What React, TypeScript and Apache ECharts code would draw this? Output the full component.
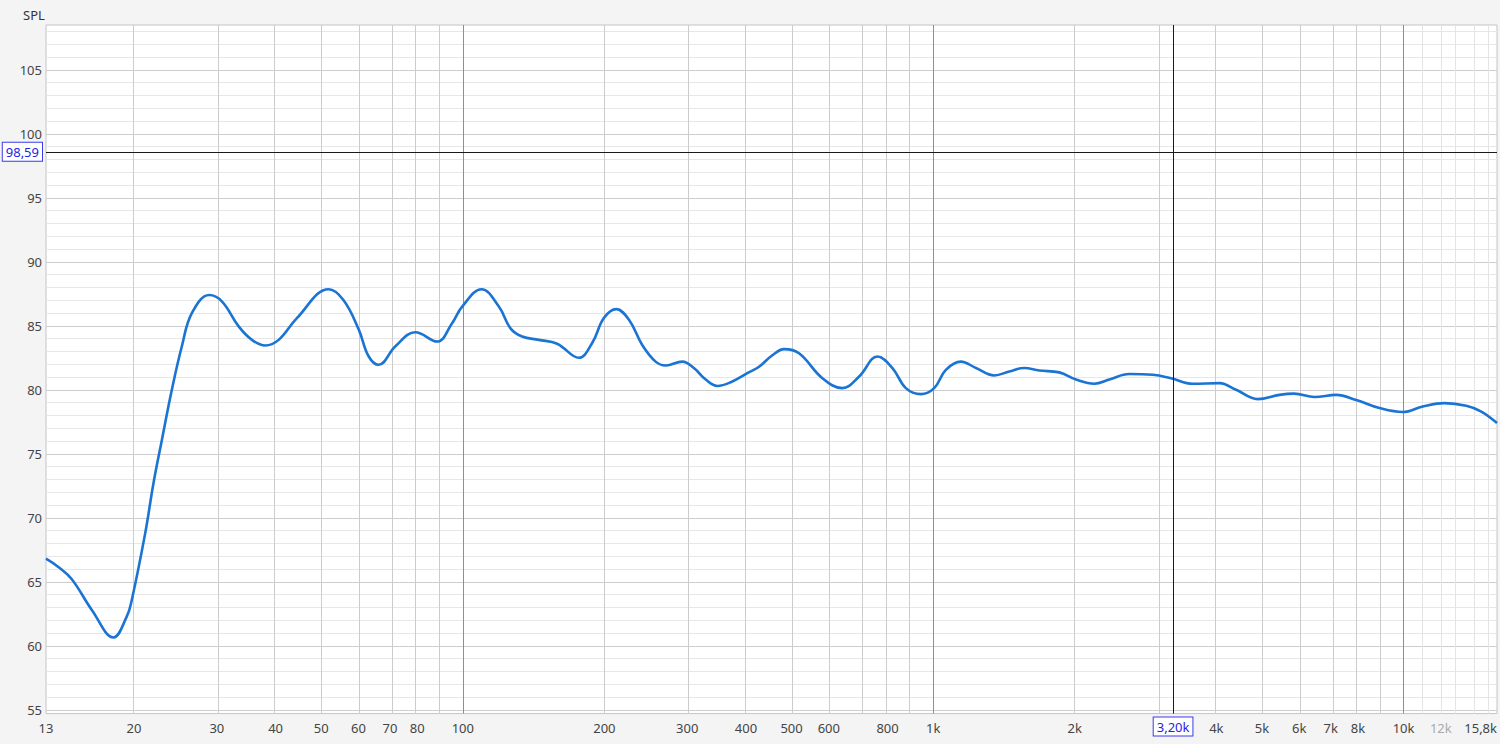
import React, { useEffect, useRef } from "react";
import * as echarts from "echarts";

// Frequency response (Hz -> dB SPL)
const freqHz = [
  13, 13.81, 14.75, 16.27, 18.09, 19.31, 19.79, 21.13, 22.0, 22.93, 24.07, 25.28, 26.56,
  28.91, 30.75, 33.38, 35.62, 38.03, 40.6, 44.4, 51.87, 55.8, 60.1,
  63.1, 66.28, 71.9, 79.3, 88.2, 94.9, 99.7, 109.6, 119.3, 126.3, 133.7, 145.1,
  158.7, 176.5, 188.4, 199.5, 212, 225.6, 240.7, 257, 270, 292.8, 310,
  328.4, 347.6, 374.1, 402.6, 426.4, 455.1, 481.9, 518.6, 581.5, 641.2, 696,
  761.4, 819.2, 874.7, 941.5, 1005, 1064, 1145, 1233, 1349, 1451, 1562, 1681,
  1854, 2012, 2201, 2369, 2612, 2928, 3204, 3563, 4060, 4406, 4898, 5448,
  5850, 6465, 7193, 7933, 8889, 9965, 10990, 12226, 13594, 14631, 15800,
];
const splDb = [
  66.8, 66.15, 65.2, 62.8, 60.65, 62.3, 63.6, 68.8, 72.7, 76.1, 80.0, 83.4, 86.0,
  87.4, 86.9, 84.95, 83.9, 83.46, 83.9, 85.6, 87.86, 87.0, 84.7,
  82.6, 81.95, 83.4, 84.5, 83.77, 85.2, 86.5, 87.86, 86.5, 84.8, 84.16, 83.9,
  83.6, 82.5, 83.65, 85.6, 86.3, 85.47, 83.5, 82.2, 81.9, 82.2, 81.7,
  80.8, 80.3, 80.65, 81.3, 81.8, 82.7, 83.18, 82.85, 80.9, 80.13, 81.04,
  82.6, 81.7, 80.13, 79.66, 80.13, 81.56, 82.2, 81.7, 81.12, 81.43, 81.7, 81.5,
  81.36, 80.8, 80.47, 80.8, 81.23, 81.17, 80.9, 80.47, 80.52, 80.0, 79.27, 79.6,
  79.7, 79.43, 79.6, 79.2, 78.57, 78.26, 78.7, 78.96, 78.75, 78.3, 77.4,
];

const yLabelValues = [55, 60, 65, 70, 75, 80, 85, 90, 95, 100, 105];
const xLabelFreqs = [
  13, 20, 30, 40, 50, 60, 70, 80, 100, 200, 300, 400, 500, 600, 800, 1000, 2000,
  4000, 5000, 6000, 7000, 8000, 10000, 12000, 15800,
];
const fadedLabelFreqs = [12000];
const gridFreqs = [
  20, 30, 40, 50, 60, 70, 80, 90, 200, 300, 400, 500, 600, 700, 800, 900, 2000,
  3000, 4000, 5000, 6000, 7000, 8000, 9000,
];
const decadeFreqs = [100, 1000, 10000];
const fadedGridFreqs = [11000, 12000, 13000, 14000, 15000];
const yMajorGrid = [55, 60, 65, 70, 75, 80, 85, 90, 95, 100, 105];
const cursorFreq = 3200;
const cursorLevel = 98.59;

const freqMin = 13;
const freqMax = 15800;
const splMin = 54.7;
const splMax = 108.5;

const FONT = "'Noto Sans', 'Open Sans', sans-serif";

function fmtFreq(f: number): string {
  if (f >= 1000) {
    const k = Math.round(f / 10) / 100;
    return String(k).replace(".", ",") + "k";
  }
  return String(Math.round(f));
}

function gridSeries(name: string, data: any[], color: string) {
  return {
    name,
    type: "line",
    data: [],
    silent: true,
    z: 1,
    markLine: {
      silent: true,
      animation: false,
      z: 1,
      symbol: ["none", "none"],
      label: { show: false },
      emphasis: { disabled: true },
      lineStyle: { color, width: 1, type: "solid" },
      data,
    },
  };
}

export default function App() {
  const ref = useRef<HTMLDivElement>(null);

  useEffect(() => {
    if (!ref.current) return;
    const chart = echarts.init(ref.current, undefined, { renderer: "svg" });

    const yMinorGrid: number[] = [];
    for (let v = 55; v <= 108; v++) if (yMajorGrid.indexOf(v) < 0) yMinorGrid.push(v);

    const cursorLabel = {
      show: true,
      position: "start",
      distance: 4,
      color: "#2323e6",
      fontSize: 13,
      fontFamily: FONT,
      backgroundColor: "#ffffff",
      borderColor: "#3a3af0",
      borderWidth: 1,
      padding: [3, 3, 2, 3],
    };

    chart.setOption({
      animation: false,
      backgroundColor: "#f4f4f4",
      title: {
        text: "SPL",
        left: 18,
        top: 3,
        textStyle: { fontSize: 13, fontWeight: "normal", color: "#333", fontFamily: FONT },
      },
      grid: {
        left: 46,
        right: 3,
        top: 25,
        bottom: 30.4,
        outerBoundsMode: "none",
        containLabel: false,
        show: true,
        backgroundColor: "#ffffff",
        borderColor: "#c4c4c4",
        borderWidth: 1,
      },
      xAxis: {
        type: "value",
        min: Math.log10(freqMin),
        max: Math.log10(freqMax),
        axisLine: { show: false },
        axisTick: { show: false },
        splitLine: { show: false },
        axisLabel: {
          customValues: xLabelFreqs.map((f) => Math.log10(f)),
          hideOverlap: false,
          showMinLabel: true,
          showMaxLabel: true,
          alignMaxLabel: "right",
          margin: 8,
          fontSize: 13,
          fontFamily: FONT,
          color: (v: any) => {
            const f = Math.pow(10, Number(v));
            return fadedLabelFreqs.some((g) => Math.abs(g - f) < 1) ? "#aaaaaa" : "#444444";
          },
          formatter: (v: number) => fmtFreq(Math.pow(10, v)),
        },
      },
      yAxis: {
        type: "value",
        min: splMin,
        max: splMax,
        axisLine: { show: false },
        axisTick: { show: false },
        splitLine: { show: false },
        axisLabel: {
          customValues: yLabelValues,
          margin: 4,
          fontSize: 13,
          fontFamily: FONT,
          color: "#444444",
        },
      },
      series: [
        gridSeries("hminor", yMinorGrid.map((v) => ({ yAxis: v })), "#e7e7e7"),
        gridSeries("hmajor", yMajorGrid.map((v) => ({ yAxis: v })), "#cdcdcd"),
        gridSeries("vfaded", fadedGridFreqs.map((f) => ({ xAxis: Math.log10(f) })), "#e4e4e4"),
        gridSeries("vgrid", gridFreqs.map((f) => ({ xAxis: Math.log10(f) })), "#cccccc"),
        gridSeries("vdecade", decadeFreqs.map((f) => ({ xAxis: Math.log10(f) })), "#8f8f8f"),
        {
          name: "SPL",
          type: "line",
          z: 4,
          smooth: 0.4,
          showSymbol: false,
          silent: true,
          lineStyle: { color: "#1a74d4", width: 2.6 },
          data: freqHz.map((f, i) => [Math.log10(f), splDb[i]]),
        },
        {
          name: "cursor",
          type: "line",
          data: [],
          z: 5,
          silent: true,
          markLine: {
            silent: true,
            animation: false,
            z: 5,
            symbol: ["none", "none"],
            lineStyle: { color: "#1a1a1a", width: 1, type: "solid" },
            emphasis: { disabled: true },
            data: [
              {
                xAxis: Math.log10(cursorFreq),
                label: { ...cursorLabel, formatter: (cursorFreq / 1000).toFixed(2).replace(".", ",") + "k" },
              },
              {
                yAxis: cursorLevel,
                label: { ...cursorLabel, formatter: cursorLevel.toFixed(2).replace(".", ",") },
              },
            ],
          },
        },
      ],
    });

    return () => chart.dispose();
  }, []);

  return (
    <div
      ref={ref}
      style={{ position: "fixed", left: 0, top: 0, width: 1500, height: 744, background: "#f4f4f4" }}
    />
  );
}
